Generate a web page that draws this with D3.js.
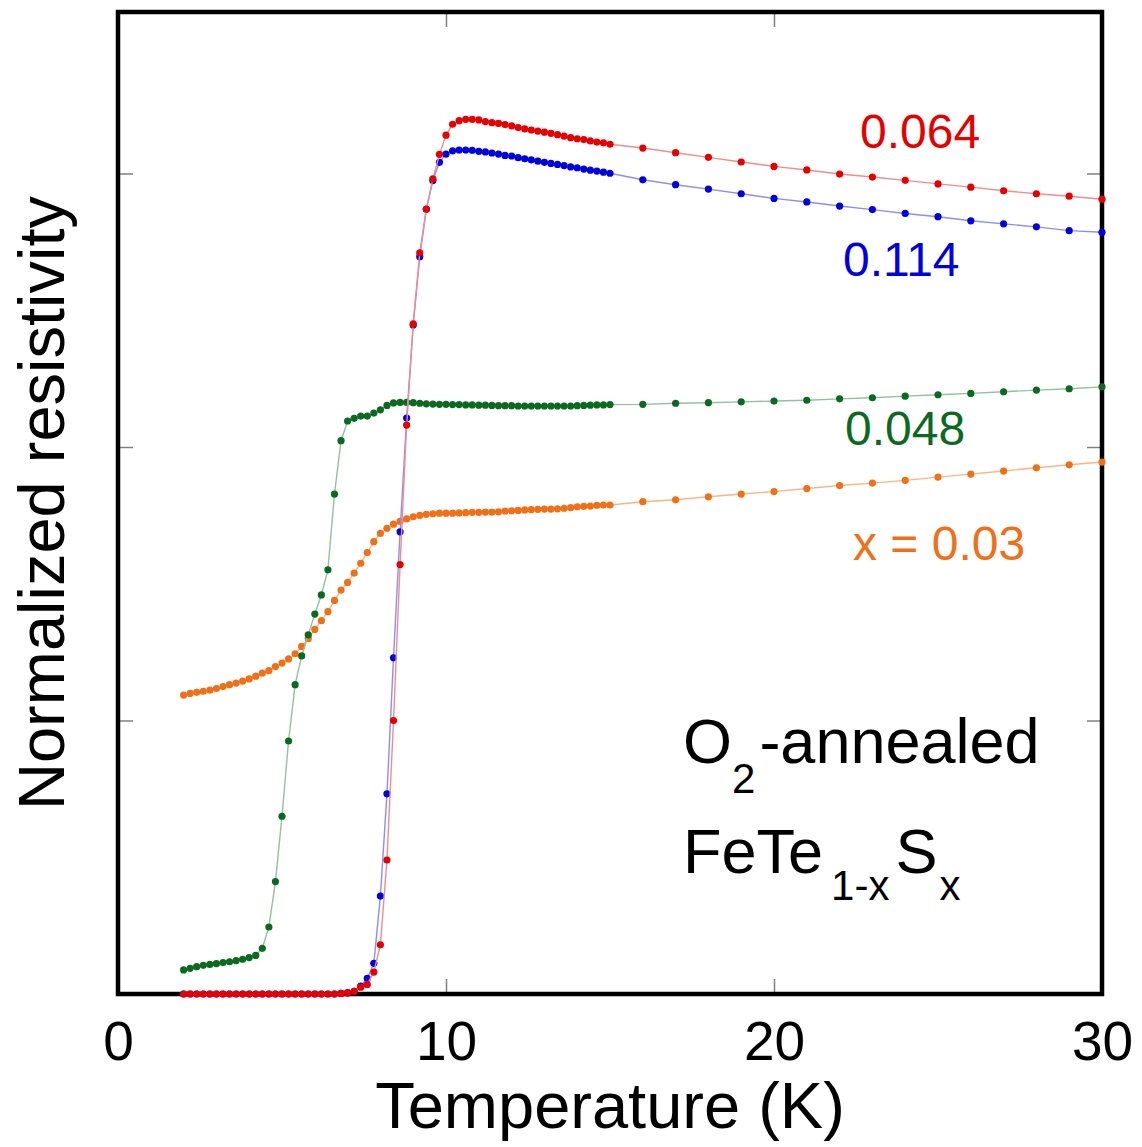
<!DOCTYPE html>
<html>
<head>
<meta charset="utf-8">
<script src="https://cdn.jsdelivr.net/npm/d3@7"></script>
<style>
  body { margin: 0; background: #fff; }
  text { font-family: "Liberation Sans", Arial, sans-serif; }
</style>
</head>
<body>
<script>
// temperature grid (K): dense 0.2 K steps to 15 K, then 1 K steps
const temps = [
  2.0, 2.2, 2.4, 2.6, 2.8, 3.0, 3.2, 3.4, 3.6, 3.8,
  4.0, 4.2, 4.4, 4.6, 4.8, 5.0, 5.2, 5.4, 5.6, 5.8,
  6.0, 6.2, 6.4, 6.6, 6.8, 7.0, 7.2, 7.4, 7.6, 7.8,
  8.0, 8.2, 8.4, 8.6, 8.8, 9.0, 9.2, 9.4, 9.6, 9.8,
  10.0, 10.2, 10.4, 10.6, 10.8, 11.0, 11.2, 11.4, 11.6, 11.8,
  12.0, 12.2, 12.4, 12.6, 12.8, 13.0, 13.2, 13.4, 13.6, 13.8,
  14.0, 14.2, 14.4, 14.6, 14.8, 15.0,
  16, 17, 18, 19, 20, 21, 22, 23, 24, 25, 26, 27, 28, 29, 30
];

// normalized resistivity (arbitrary units, offset curves)
const rhoX003 = [
  1.093, 1.099, 1.103, 1.107, 1.111, 1.117, 1.124, 1.131, 1.137, 1.144,
  1.152, 1.162, 1.173, 1.182, 1.197, 1.210, 1.225, 1.244, 1.271, 1.299,
  1.333, 1.365, 1.398, 1.439, 1.477, 1.505, 1.539, 1.575, 1.614, 1.654,
  1.684, 1.703, 1.718, 1.728, 1.737, 1.745, 1.750, 1.754, 1.756, 1.758,
  1.758, 1.758, 1.759, 1.760, 1.761, 1.761, 1.762, 1.762, 1.763, 1.766,
  1.767, 1.768, 1.770, 1.771, 1.772, 1.773, 1.773, 1.774, 1.776, 1.778,
  1.781, 1.783, 1.784, 1.787, 1.788, 1.788,
  1.800, 1.807, 1.818, 1.828, 1.837, 1.848, 1.859, 1.868, 1.878, 1.890,
  1.901, 1.912, 1.924, 1.935, 1.945
];

const rhoX0048 = [
  0.088, 0.094, 0.100, 0.105, 0.108, 0.111, 0.115, 0.118, 0.122, 0.127,
  0.133, 0.141, 0.167, 0.245, 0.411, 0.650, 0.925, 1.131, 1.236, 1.313,
  1.389, 1.459, 1.551, 1.828, 2.023, 2.095, 2.105, 2.113, 2.113, 2.124,
  2.136, 2.152, 2.161, 2.163, 2.163, 2.162, 2.160, 2.158, 2.157, 2.156,
  2.156, 2.155, 2.155, 2.154, 2.154, 2.153, 2.153, 2.152, 2.151, 2.151,
  2.151, 2.150, 2.150, 2.150, 2.150, 2.150, 2.150, 2.150, 2.150, 2.150,
  2.151, 2.152, 2.153, 2.154, 2.154, 2.155,
  2.156, 2.160, 2.162, 2.165, 2.168, 2.171, 2.176, 2.180, 2.186, 2.191,
  2.196, 2.202, 2.208, 2.213, 2.220
];

const rhoX0114 = [
  0, 0, 0, 0, 0, 0, 0, 0, 0, 0,
  0, 0, 0, 0, 0, 0, 0, 0, 0, 0,
  0, 0, 0, 0, 0.002, 0.004, 0.010, 0.029, 0.057, 0.112,
  0.358, 0.732, 1.229, 1.690, 2.106, 2.446, 2.696, 2.869, 2.974, 3.041,
  3.071, 3.083, 3.086, 3.086, 3.085, 3.081, 3.079, 3.075, 3.071, 3.066,
  3.064, 3.058, 3.054, 3.050, 3.045, 3.041, 3.037, 3.033, 3.029, 3.024,
  3.021, 3.016, 3.012, 3.009, 3.005, 3.001,
  2.977, 2.959, 2.943, 2.926, 2.909, 2.896, 2.881, 2.868, 2.854, 2.842,
  2.827, 2.816, 2.805, 2.791, 2.785
];

const rhoX0064 = [
  0, 0, 0, 0, 0, 0, 0, 0, 0, 0,
  0, 0, 0, 0, 0, 0, 0, 0, 0, 0,
  0, 0, 0, 0, 0.002, 0.005, 0.010, 0.025, 0.035, 0.080,
  0.180, 0.490, 1.000, 1.570, 2.080, 2.450, 2.710, 2.870, 2.980, 3.070,
  3.140, 3.180, 3.193, 3.198, 3.198, 3.196, 3.190, 3.186, 3.183, 3.179,
  3.174, 3.168, 3.163, 3.159, 3.155, 3.151, 3.147, 3.142, 3.137, 3.131,
  3.127, 3.124, 3.119, 3.115, 3.112, 3.107,
  3.093, 3.076, 3.059, 3.042, 3.026, 3.013, 2.998, 2.987, 2.975, 2.962,
  2.950, 2.937, 2.926, 2.917, 2.906
];

const xTicks = [0, 10, 20, 30];
const yTicks = [1, 2, 3];

const series = [
  { label: "x = 0.03", values: rhoX003, dot: "#f07018", line: "#f8b58a", lx: 853, ly: 560 },
  { label: "0.048", values: rhoX0048, dot: "#0b6a1f", line: "#92c29d", lx: 845, ly: 445 },
  { label: "0.114", values: rhoX0114, dot: "#0000e0", line: "#8d8df6", lx: 843, ly: 276 },
  { label: "0.064", values: rhoX0064, dot: "#e60000", line: "#f28c8c", lx: 860, ly: 148 }
];

const W = 1142, H = 1147;
const margin = { top: 12, right: 40, bottom: 153, left: 118 };
const width = W - margin.left - margin.right;
const height = H - margin.top - margin.bottom;

const svg = d3.select("body").append("svg")
  .attr("width", W)
  .attr("height", H);

const g = svg.append("g")
  .attr("transform", "translate(" + margin.left + "," + margin.top + ")");

const x = d3.scaleLinear().domain([0, 30]).range([0, width]);
const y = d3.scaleLinear().domain([0, height / 273.5]).range([height, 0]);

// inward ticks on all four sides
function styleAxis(sel) {
  sel.select(".domain").remove();
  sel.selectAll(".tick line").attr("stroke", "#808080").attr("stroke-width", 1.5);
}

g.append("g")
  .attr("transform", "translate(0," + height + ")")
  .call(d3.axisBottom(x).tickValues(xTicks).tickSize(-15).tickPadding(27).tickFormat(d3.format("d")))
  .call(styleAxis)
  .selectAll("text")
  .attr("font-size", 55)
  .attr("font-family", "Liberation Sans, Arial, sans-serif")
  .attr("fill", "#000");

g.append("g")
  .call(d3.axisTop(x).tickValues(xTicks).tickSize(-15).tickFormat(""))
  .call(styleAxis);

g.append("g")
  .call(d3.axisLeft(y).tickValues(yTicks).tickSize(-15).tickFormat(""))
  .call(styleAxis);

g.append("g")
  .attr("transform", "translate(" + width + ",0)")
  .call(d3.axisRight(y).tickValues(yTicks).tickSize(-15).tickFormat(""))
  .call(styleAxis);

// frame
g.append("rect")
  .attr("width", width)
  .attr("height", height)
  .attr("fill", "none")
  .attr("stroke", "#000")
  .attr("stroke-width", 4.5);

const line = d3.line()
  .x((d, i) => x(temps[i]))
  .y(d => y(d));

series.forEach(s => {
  g.append("path")
    .datum(s.values)
    .attr("fill", "none")
    .attr("stroke", s.line)
    .attr("stroke-width", 1.4)
    .attr("d", line);

  g.append("g")
    .selectAll("circle")
    .data(s.values)
    .join("circle")
    .attr("cx", (d, i) => x(temps[i]))
    .attr("cy", d => y(d))
    .attr("r", 3.6)
    .attr("fill", s.dot);
});

// series labels
series.forEach(s => {
  svg.append("text")
    .attr("x", s.lx)
    .attr("y", s.ly)
    .attr("font-size", 48)
    .attr("fill", s.dot)
    .text(s.label);
});

// sample annotation
const t1 = svg.append("text").attr("x", 683).attr("y", 763).attr("font-size", 63).attr("fill", "#000");
t1.append("tspan").text("O");
t1.append("tspan").attr("dy", 30).attr("font-size", 42).text("2");
t1.append("tspan").attr("dy", -30).attr("dx", 4).text("-annealed");

const t2 = svg.append("text").attr("x", 683).attr("y", 873).attr("font-size", 63).attr("fill", "#000");
t2.append("tspan").text("FeTe");
t2.append("tspan").attr("dy", 27).attr("dx", 8).attr("font-size", 42).text("1-x");
t2.append("tspan").attr("dy", -27).attr("dx", 6).text("S");
t2.append("tspan").attr("dy", 27).attr("dx", 2).attr("font-size", 42).text("x");

// axis titles
svg.append("text")
  .attr("x", margin.left + width / 2)
  .attr("y", 1128)
  .attr("text-anchor", "middle")
  .attr("font-size", 65)
  .text("Temperature (K)");

svg.append("text")
  .attr("transform", "translate(64," + (margin.top + height / 2) + ") rotate(-90)")
  .attr("text-anchor", "middle")
  .attr("font-size", 65)
  .text("Normalized resistivity");
</script>
</body>
</html>
